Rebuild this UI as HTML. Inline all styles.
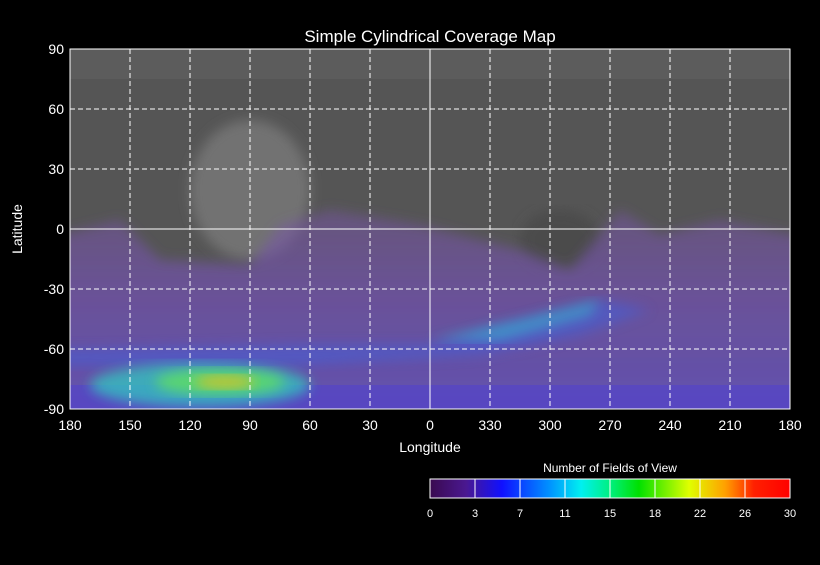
<!DOCTYPE html>
<html><head><meta charset="utf-8"><style>
body{margin:0;background:#000;width:820px;height:560px;overflow:hidden}
text{font-family:"Liberation Sans",sans-serif;fill:#fff}
</style></head><body>
<svg id="c" width="820" height="560">
<defs>
<linearGradient id="cb" x1="0" x2="1">
<stop offset="0" stop-color="#3a0a50"/><stop offset="0.1" stop-color="#4a1890"/><stop offset="0.2" stop-color="#1010ff"/><stop offset="0.33" stop-color="#0090ff"/><stop offset="0.42" stop-color="#00f0f0"/><stop offset="0.5" stop-color="#00f080"/><stop offset="0.58" stop-color="#00e000"/><stop offset="0.72" stop-color="#e0ff00"/><stop offset="0.82" stop-color="#ffa000"/><stop offset="0.9" stop-color="#ff2000"/><stop offset="1" stop-color="#ff0000"/>
</linearGradient>
<linearGradient id="pur" x1="0" y1="0" x2="0" y2="1">
<stop offset="0" stop-color="#7a55aa" stop-opacity="0.45"/><stop offset="0.4" stop-color="#7050b0" stop-opacity="0.75"/><stop offset="1" stop-color="#6050c8" stop-opacity="0.85"/>
</linearGradient>
<filter id="bl"><feGaussianBlur stdDeviation="6"/></filter>
<clipPath id="clip"><rect x="70" y="49" width="720" height="360"/></clipPath>
</defs>
<text x="430" y="42" font-size="17" text-anchor="middle">Simple Cylindrical Coverage Map</text>
<g clip-path="url(#clip)">
<rect x="70" y="49" width="720" height="360" fill="#555"/>
<rect x="70" y="49" width="720" height="30" fill="#5c5c5c"/>
<ellipse cx="250" cy="190" rx="60" ry="70" fill="#727272" filter="url(#bl)"/>
<ellipse cx="560" cy="240" rx="40" ry="30" fill="#4c4c4c" filter="url(#bl)"/>
<path d="M40 240 L120 220 L160 260 L250 265 L280 225 L330 210 L420 225 L520 250 L570 270 L620 210 L660 235 L720 220 L820 240 L820 440 L40 440Z" fill="url(#pur)" filter="url(#bl)"/>
<path d="M40 350 L300 345 L430 345 L500 325 L600 300 L650 310 L580 335 L480 355 L300 365 L40 365Z" fill="#4060e0" opacity="0.5" filter="url(#bl)"/>
<path d="M430 340 L520 320 L600 300 L590 315 L500 340Z" fill="#30c0d0" opacity="0.55" filter="url(#bl)"/>
<rect x="40" y="385" width="780" height="30" fill="#5040d0" opacity="0.55"/>
<ellipse cx="200" cy="385" rx="110" ry="22" fill="#30c8c0" opacity="0.75" filter="url(#bl)"/>
<ellipse cx="220" cy="382" rx="65" ry="13" fill="#60e060" opacity="0.8" filter="url(#bl)"/>
<ellipse cx="225" cy="382" rx="30" ry="7" fill="#e0c020" opacity="0.75" filter="url(#bl)"/>
</g>
<g id="grid"></g>
<rect x="70" y="49" width="720" height="360" fill="none" stroke="#fff"/>
<g id="ticks"></g>
<text x="430" y="452" font-size="14" text-anchor="middle">Longitude</text>
<text x="22" y="229" font-size="14" text-anchor="middle" transform="rotate(-90 22 229)">Latitude</text>
<text x="610" y="472" font-size="12" text-anchor="middle">Number of Fields of View</text>
<rect x="430" y="479" width="360" height="19" fill="url(#cb)" stroke="#fff"/>
<g id="cbt"></g>
</svg>
<script>
const lonLabels=["180","150","120","90","60","30","0","330","300","270","240","210","180"];
const latLabels=[90,60,30,0,-30,-60,-90];
const cbLabels=[0,3,7,11,15,18,22,26,30];
const NS="http://www.w3.org/2000/svg";
const X0=70,Y0=49,W=720,H=360;
const xs=i=>X0+i*W/(lonLabels.length-1);
const ys=lat=>Y0+(90-lat)*H/180;
const g=document.getElementById('grid'),t=document.getElementById('ticks'),cb=document.getElementById('cbt');
function mk(tag,a,p){const e=document.createElementNS(NS,tag);for(const k in a)e.setAttribute(k,a[k]);p.appendChild(e);return e;}
lonLabels.forEach((l,i)=>{const x=xs(i);
 if(i>0&&i<lonLabels.length-1){const ln=mk('line',{x1:x,x2:x,y1:Y0,y2:Y0+H,stroke:'#fff','stroke-dasharray':l==="0"?'none':'5,3'},g);
 
 }
 const tx=mk('text',{x:x,y:430,'font-size':14,'text-anchor':'middle'},t);tx.textContent=l;
 
 });
latLabels.forEach(l=>{const y=ys(l);
 if(l<90&&l>-90){const ln=mk('line',{x1:X0,x2:X0+W,y1:y,y2:y,stroke:'#fff','stroke-dasharray':l===0?'none':'5,3'},g);
 
 }
 const tx=mk('text',{x:64,y:y+5,'font-size':14,'text-anchor':'end'},t);tx.textContent=l;
 
 });
cbLabels.forEach((v,i)=>{const x=430+i*360/(cbLabels.length-1);
 if(i>0&&i<cbLabels.length-1){const ln=mk('line',{x1:x,x2:x,y1:479,y2:498,stroke:'#fff'},cb);
 
 }
 const tx=mk('text',{x:x,y:517,'font-size':11,'text-anchor':'middle'},cb);tx.textContent=v;
 
 });
</script>
</body></html>
